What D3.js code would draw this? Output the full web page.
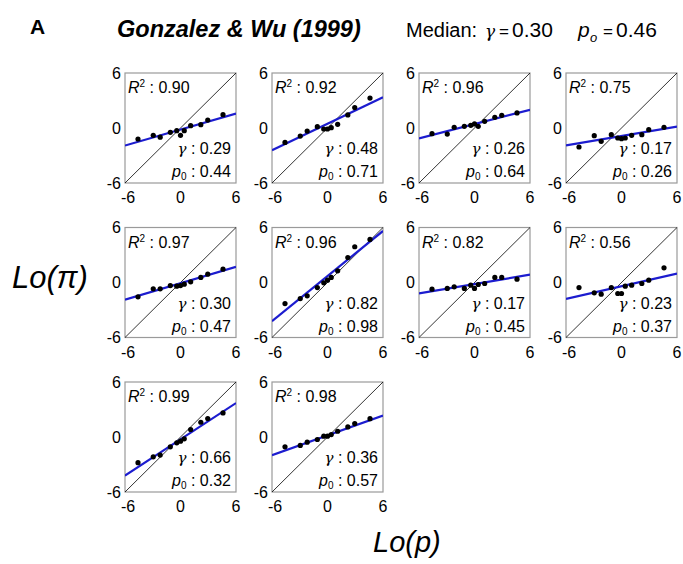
<!DOCTYPE html>
<html>
<head>
<meta charset="utf-8">
<script src="https://cdn.jsdelivr.net/npm/d3@7"></script>
<style>
  body { margin: 0; background: #fff; }
  text { font-family: "Liberation Sans", Arial, sans-serif; }
</style>
</head>
<body>
<svg id="chart" width="683" height="564"></svg>
<script>
// probability levels used in the study (x = Lo(p))
const probs = [0.01, 0.05, 0.10, 0.25, 0.40, 0.50, 0.60, 0.75, 0.90, 0.95, 0.99]

// fitted parameters per subject
const gammas = [0.29, 0.48, 0.26, 0.17, 0.30, 0.82, 0.17, 0.23, 0.66, 0.36]
const p0s = [0.44, 0.71, 0.64, 0.26, 0.47, 0.98, 0.45, 0.37, 0.32, 0.57]
const r2s = [0.90, 0.92, 0.96, 0.75, 0.97, 0.96, 0.82, 0.56, 0.99, 0.98]

// Lo(pi), one row per subject
const loPi = [
  [-1.2, -0.8, -1.0, -0.47, -0.29, -0.8, -0.29, 0.25, 0.36, 0.87, 1.45],
  [-1.57, -0.88, -0.33, 0.15, -0.11, -0.11, 0.04, 0.4, 1.43, 2.23, 3.26],
  [-0.62, -0.66, 0.07, 0.18, 0.29, 0.44, 0.18, 0.73, 1.16, 1.38, 1.64],
  [-2.07, -0.84, -1.45, -0.73, -1.09, -1.16, -1.09, -0.8, -0.73, -0.18, 0.07],
  [-1.56, -0.69, -0.69, -0.33, -0.4, -0.33, -0.18, 0.07, 0.55, 0.91, 1.45],
  [-2.3, -1.75, -1.45, -0.55, -0.04, 0.25, 0.55, 1.27, 2.73, 3.9, 4.7],
  [-0.73, -0.65, -0.47, -0.65, -0.29, -0.65, -0.22, -0.11, 0.55, 0.55, 0.36],
  [-0.55, -1.13, -1.27, -0.55, -1.2, -1.2, -0.4, -0.29, -0.11, 0.25, 1.6],
  [-2.8, -2.16, -1.97, -1.07, -0.63, -0.45, -0.2, 0.82, 1.61, 2.01, 2.63],
  [-1.07, -0.92, -0.56, -0.27, 0.09, 0.09, 0.27, 0.63, 1.1, 1.47, 2.0]
]

const ticks = [-6, 0, 6]
const medianGamma = '0.30'
const medianP0 = '0.46'

const logit = p => Math.log(p / (1 - p))
const xs = probs.map(logit)

const svg = d3.select('#chart')
const pw = 111, ph = 110
const colX = d3.scaleLinear().domain([0, 1]).range([125, 272])
const rowY = d3.scaleLinear().domain([0, 1]).range([73, 227.5])

const x = d3.scaleLinear().domain([-6, 6]).range([0, pw])
const y = d3.scaleLinear().domain([-6, 6]).range([ph, 0])

// header
svg.append('text').attr('x', 30).attr('y', 34)
  .style('font-weight', 'bold').style('font-size', '21px').text('A')
svg.append('text').attr('x', 117).attr('y', 37)
  .style('font-weight', 'bold').style('font-style', 'italic').style('font-size', '23.5px')
  .text('Gonzalez & Wu (1999)')

const hdr = (xx, txt, size, extra) => {
  const t = svg.append('text').attr('x', xx).attr('y', 37).style('font-size', size).text(txt)
  if (extra) extra(t)
  return t
}
hdr(406, 'Median:', '20px')
hdr(485, 'γ', '17px', t => t.style('font-family', 'DejaVu Serif, serif').style('font-style', 'italic'))
hdr(499, '=', '17px')
hdr(512, medianGamma, '21px')
hdr(578, 'p', '21px', t => t.style('font-style', 'italic'))
hdr(590, 'o', '13px', t => t.attr('y', 42).style('font-style', 'italic'))
hdr(603, '=', '17px')
hdr(616, medianP0, '21px')

// axis titles
svg.append('text').attr('x', 12).attr('y', 288)
  .style('font-size', '31px').style('font-style', 'italic').text('Lo(π)')
svg.append('text').attr('x', 373).attr('y', 552)
  .style('font-size', '29px').style('font-style', 'italic').text('Lo(p)')

gammas.forEach((g, i) => {
  const col = i % 4, row = Math.floor(i / 4)
  const gp = svg.append('g')
    .attr('transform', `translate(${colX(col)},${rowY(row)})`)

  gp.append('clipPath').attr('id', 'clip' + i)
    .append('rect').attr('width', pw).attr('height', ph)

  gp.append('rect').attr('width', pw).attr('height', ph)
    .attr('fill', 'none').attr('stroke', '#9a9a9a').attr('stroke-width', 1.2)

  // identity line
  gp.append('line')
    .attr('x1', x(-6)).attr('y1', y(-6)).attr('x2', x(6)).attr('y2', y(6))
    .attr('stroke', '#000').attr('stroke-width', 0.8)

  // fitted line: Lo(pi) = g*Lo(p) + (1-g)*Lo(p0)
  const b = (1 - g) * logit(p0s[i])
  gp.append('line').attr('clip-path', `url(#clip${i})`)
    .attr('x1', x(-6)).attr('y1', y(g * -6 + b))
    .attr('x2', x(6)).attr('y2', y(g * 6 + b))
    .attr('stroke', '#1c1ccf').attr('stroke-width', 2.2)

  gp.selectAll('circle').data(loPi[i]).enter().append('circle')
    .attr('cx', (d, j) => x(xs[j])).attr('cy', d => y(d))
    .attr('r', 2.6).attr('fill', '#000')

  // tick labels
  gp.selectAll('.yt').data(ticks).enter().append('text')
    .attr('x', -4).attr('y', d => y(d) + 5.5)
    .attr('text-anchor', 'end').style('font-size', '16px').text(d => d)
  gp.selectAll('.xt').data(ticks).enter().append('text')
    .attr('x', d => x(d) + (d === -6 ? 3 : 0)).attr('y', ph + 20)
    .attr('text-anchor', 'middle').style('font-size', '16px').text(d => d)

  // stats
  const r = gp.append('text').attr('x', 3).attr('y', 20).style('font-size', '16px')
  r.append('tspan').style('font-style', 'italic').text('R')
  r.append('tspan').attr('dy', -6).style('font-size', '10px').text('2')
  r.append('tspan').attr('dy', 6).text(' : ' + r2s[i].toFixed(2))

  const gt = gp.append('text').attr('x', pw - 5).attr('y', 81)
    .attr('text-anchor', 'end').style('font-size', '16px')
  gt.append('tspan').style('font-family', 'DejaVu Serif, serif').style('font-style', 'italic').style('font-size', '15px').text('γ')
  gt.append('tspan').text(' : ' + g.toFixed(2))

  const pt = gp.append('text').attr('x', pw - 5).attr('y', 104)
    .attr('text-anchor', 'end').style('font-size', '16px')
  pt.append('tspan').style('font-style', 'italic').text('p')
  pt.append('tspan').attr('dy', 3).style('font-size', '10px').text('0')
  pt.append('tspan').attr('dy', -3).text(' : ' + p0s[i].toFixed(2))
})
</script>
</body>
</html>
